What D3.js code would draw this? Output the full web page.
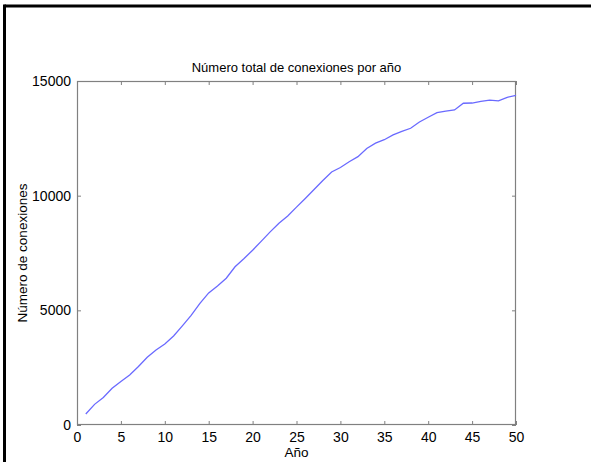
<!DOCTYPE html>
<html>
<head>
<meta charset="utf-8">
<script src="https://cdn.jsdelivr.net/npm/d3@7"></script>
<style>
  html, body { margin: 0; padding: 0; background: #fff; }
  svg { display: block; font-family: "Liberation Sans", Arial, sans-serif; }
</style>
</head>
<body>
<svg id="chart" width="591" height="462"></svg>
<script>
// Total connections per year
const years = d3.range(1, 51);
const connections = [
  480, 900, 1200, 1600, 1900, 2180, 2550, 2950, 3270, 3530,
  3880, 4320, 4780, 5300, 5760, 6060, 6400, 6900, 7250, 7620,
  8020, 8420, 8800, 9110, 9500, 9880, 10270, 10660, 11030, 11230,
  11480, 11700, 12060, 12290, 12440, 12650, 12800, 12940, 13210, 13420,
  13620, 13690, 13740, 14030, 14040, 14110, 14170, 14130, 14290, 14370
];
const xTicks = d3.range(0, 51, 5);
const yTicks = [0, 5000, 10000, 15000];

const titleText = "Número total de conexiones por año";
const xLabel = "Año";
const yLabel = "Número de conexiones";

const svg = d3.select("#chart");
const plotL = 77, plotR = 516, plotT = 81, plotB = 425;

// outer frame (top and left edges)
svg.append("line").attr("x1", 4.5).attr("x2", 591).attr("y1", 6).attr("y2", 6)
  .attr("stroke", "#000").attr("stroke-width", 3);
svg.append("line").attr("x1", 4.5).attr("x2", 4.5).attr("y1", 4.5).attr("y2", 462)
  .attr("stroke", "#000").attr("stroke-width", 3);

const x = d3.scaleLinear().domain([0, 50]).range([plotL, plotR]);
const y = d3.scaleLinear().domain([0, 15000]).range([plotB, plotT]);

const axisColor = "#808080";
const tickLen = 4;

function styleAxis(g, showLabels) {
  g.select(".domain").remove();
  g.selectAll(".tick line").attr("stroke", axisColor);
  g.selectAll(".tick text").attr("fill", "#000").style("font-size", "14px")
    .attr("font-family", "Liberation Sans, Arial, sans-serif");
  if (!showLabels) g.selectAll(".tick text").remove();
}

svg.append("g").attr("transform", `translate(0,${plotB})`)
  .call(d3.axisBottom(x).tickValues(xTicks).tickSize(-tickLen).tickPadding(7).tickFormat(d3.format("d")))
  .call(g => styleAxis(g, true));
svg.append("g").attr("transform", `translate(0,${plotT})`)
  .call(d3.axisTop(x).tickValues(xTicks).tickSize(-tickLen).tickFormat(""))
  .call(g => styleAxis(g, false));
svg.append("g").attr("transform", `translate(${plotL},0)`)
  .call(d3.axisLeft(y).tickValues(yTicks).tickSize(-tickLen).tickPadding(6).tickFormat(d3.format("d")))
  .call(g => styleAxis(g, true));
svg.append("g").attr("transform", `translate(${plotR},0)`)
  .call(d3.axisRight(y).tickValues(yTicks).tickSize(-tickLen).tickFormat(""))
  .call(g => styleAxis(g, false));

// plot box
svg.append("rect").attr("x", plotL + 0.5).attr("y", plotT + 0.5)
  .attr("width", plotR - plotL - 1).attr("height", plotB - plotT - 1)
  .attr("fill", "none").attr("stroke", axisColor).attr("stroke-width", 1.2);

// data line
const line = d3.line().x((d, i) => x(years[i])).y(d => y(d));
svg.append("path").datum(connections)
  .attr("d", line).attr("fill", "none")
  .attr("stroke", "#6a6aff").attr("stroke-width", 1.3);

// title and axis labels
svg.append("text").attr("x", (plotL + plotR) / 2).attr("y", 72)
  .attr("text-anchor", "middle").style("font-size", "13px").text(titleText);
svg.append("text").attr("x", (plotL + plotR) / 2).attr("y", 457)
  .attr("text-anchor", "middle").style("font-size", "13.5px").text(xLabel);
svg.append("text").attr("transform", `translate(27,${(plotT + plotB) / 2}) rotate(-90)`)
  .attr("text-anchor", "middle").style("font-size", "13.5px").text(yLabel);
</script>
</body>
</html>
